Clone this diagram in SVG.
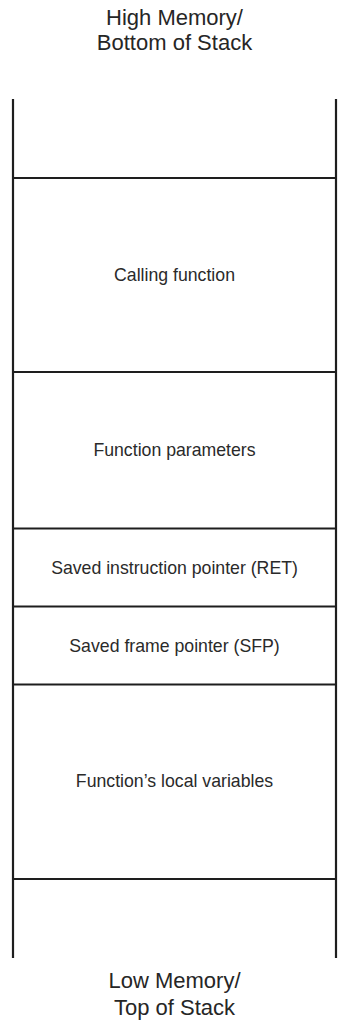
<svg xmlns="http://www.w3.org/2000/svg" width="343" height="1024" viewBox="0 0 343 1024">
  <style>
    .wall { stroke: #1e1e1e; stroke-width: 2.2; fill: none; }
    .sep { stroke: #1e1e1e; stroke-width: 2.2; }
    .title { font-family: "Liberation Sans", Arial, sans-serif; font-size: 22px; fill: #262626; text-anchor: middle; }
    .label { font-family: "Liberation Sans", Arial, sans-serif; font-size: 17.7px; fill: #2a2a2a; text-anchor: middle; }
  </style>
  <rect width="343" height="1024" fill="#ffffff"/>

  <!-- upper end of the stack -->
  <g id="high-memory">
    <text class="title" x="174.5" y="25">High Memory/</text>
    <text class="title" x="174.5" y="50">Bottom of Stack</text>
  </g>

  <!-- stack walls -->
  <g id="stack-walls">
    <line class="wall" x1="13" y1="99" x2="13" y2="958"/>
    <line class="wall" x1="336" y1="99" x2="336" y2="958"/>
  </g>

  <!-- frame boundaries -->
  <g id="separators">
    <line class="sep" x1="13" y1="178" x2="336" y2="178"/>
    <line class="sep" x1="13" y1="372" x2="336" y2="372"/>
    <line class="sep" x1="13" y1="528.5" x2="336" y2="528.5"/>
    <line class="sep" x1="13" y1="606.5" x2="336" y2="606.5"/>
    <line class="sep" x1="13" y1="684.5" x2="336" y2="684.5"/>
    <line class="sep" x1="13" y1="879" x2="336" y2="879"/>
  </g>

  <g id="calling-function">
    <text class="label" x="174.5" y="281">Calling function</text>
  </g>
  <g id="function-parameters">
    <text class="label" x="174.5" y="456">Function parameters</text>
  </g>
  <g id="saved-ret">
    <text class="label" x="174.5" y="574">Saved instruction pointer (RET)</text>
  </g>
  <g id="saved-sfp">
    <text class="label" x="174.5" y="652">Saved frame pointer (SFP)</text>
  </g>
  <g id="local-variables">
    <text class="label" x="174.5" y="787">Function’s local variables</text>
  </g>

  <!-- lower end of the stack -->
  <g id="low-memory">
    <text class="title" x="174.5" y="988">Low Memory/</text>
    <text class="title" x="174.5" y="1015">Top of Stack</text>
  </g>
</svg>
